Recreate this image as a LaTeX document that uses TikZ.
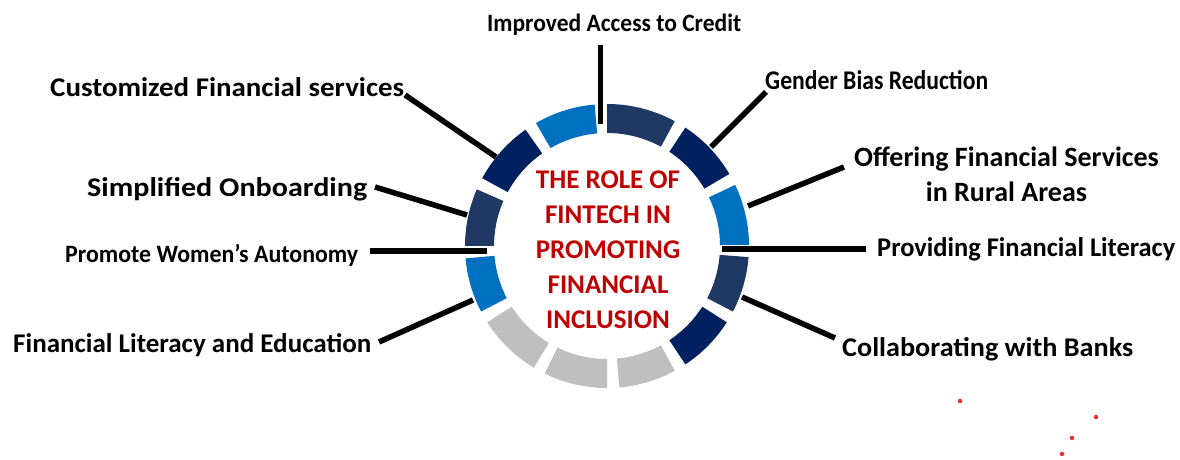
\documentclass[tikz,border=0pt]{standalone}
\usepackage{fontspec}
\setmainfont{Carlito}
\usepackage{graphicx}

\definecolor{segSky}{HTML}{0070C0}
\definecolor{segNavy}{HTML}{002060}
\definecolor{segSlate}{HTML}{203864}
\definecolor{segGray}{HTML}{BFBFBF}
\definecolor{titleRed}{HTML}{C00000}
\definecolor{dotRed}{HTML}{E62E2E}

% stretch or squeeze a label to a given width, keeping its height
\newcommand\fitwd[2]{\resizebox{#1pt}{\height}{#2}}

\tikzset{
  lbl/.style={inner sep=0pt, anchor=base west, font=\bfseries\fontsize{27}{34}\selectfont},
  link/.style={line width=5.5pt, draw=black},
  dotmark/.style={circle, fill=dotRed, inner sep=0pt, minimum size=4.5pt},
}

\begin{document}
\begin{tikzpicture}[x=1pt, y=1pt]
  \fill[white] (0,0) rectangle (1180,460);
  \useasboundingbox (0,0) rectangle (1180,460);

  % ring centre and connector end points
  \coordinate (hub) at (607,214);
  \coordinate (q1) at (600.5,415); \coordinate (p1) at (600.5,336);
  \coordinate (q2) at (405,365);   \coordinate (p2) at (496,303);
  \coordinate (q3) at (766,368);   \coordinate (p3) at (711,313);
  \coordinate (q4) at (375,273);   \coordinate (p4) at (467,245);
  \coordinate (q5) at (844,293);   \coordinate (p5) at (748,254);
  \coordinate (q6) at (370,209);   \coordinate (p6) at (487,209);
  \coordinate (q7) at (866,211);   \coordinate (p7) at (722,211);
  \coordinate (q8) at (379,118);   \coordinate (p8) at (473,160);
  \coordinate (q9) at (835,122);   \coordinate (p9) at (742,163);

  % connectors
  \foreach \i in {1,...,9} { \draw[link] (q\i) -- (p\i); }

  % segmented ring
  \begin{scope}[shift={(hub)}]
    \foreach \a/\b/\c in {0.5/25.5/segSky, 30.5/56.5/segNavy, 61.5/90/segSlate,
                          95/120/segSky, 125/151.5/segNavy, 156.5/180/segSlate,
                          185/207.5/segSky, 212.5/239/segGray, 244/270/segGray,
                          275/298.5/segGray, 303.5/327.5/segNavy, 332.5/355.5/segSlate} {
      \fill[\c] (\a:142pt) arc[start angle=\a, end angle=\b, radius=142pt]
        -- (\b:113pt) arc[start angle=\b, end angle=\a, radius=113pt] -- cycle;
    }
  \end{scope}

  % labels
  \node[lbl, font=\bfseries\fontsize{25}{30}\selectfont] (l1) at (487,428) {\fitwd{254}{Improved Access to Credit}};
  \node[lbl] (l2) at (50,363)  {\fitwd{354}{Customized Financial services}};
  \node[lbl] (l3) at (765,370) {\fitwd{223}{Gender Bias Reduction}};
  \node[lbl] (l4) at (87,263)  {\fitwd{280}{Simplified Onboarding}};
  \node[lbl, anchor=center, align=center, font=\bfseries\fontsize{28}{35}\selectfont] (l5) at (1006.5,286)
    {Offering Financial Services\\in Rural Areas};
  \node[lbl, font=\bfseries\fontsize{25}{30}\selectfont] (l6) at (65,197) {\fitwd{293}{Promote Women’s Autonomy}};
  \node[lbl] (l7) at (877,203) {\fitwd{298}{Providing Financial Literacy}};
  \node[lbl] (l8) at (13,107)  {\fitwd{358}{Financial Literacy and Education}};
  \node[lbl] (l9) at (842,103) {\fitwd{291}{Collaborating with Banks}};

  % title in the middle of the ring
  \node[inner sep=0pt, align=center, text=titleRed,
        font=\bfseries\fontsize{27}{35}\selectfont] (title) at (608,210)
    {THE ROLE OF\\FINTECH IN\\PROMOTING\\FINANCIAL\\INCLUSION};

  % scattered dots
  \node[dotmark] (d1) at (960,59) {};
  \node[dotmark] (d2) at (1096,43) {};
  \node[dotmark] (d3) at (1072,22) {};
  \node[dotmark] (d4) at (1062,6) {};
\end{tikzpicture}
\end{document}
